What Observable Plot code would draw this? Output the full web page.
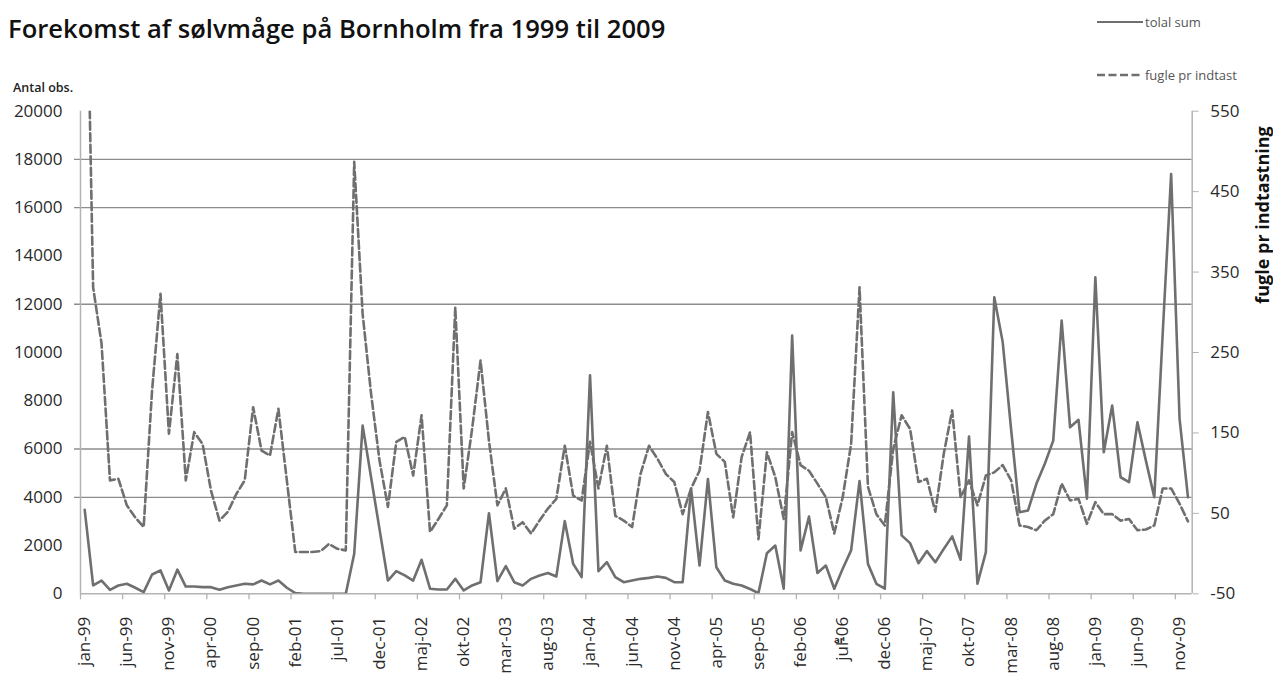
<!DOCTYPE html>
<html><head><meta charset="utf-8">
<script src="https://cdn.jsdelivr.net/npm/d3@7"></script>
<script src="https://cdn.jsdelivr.net/npm/@observablehq/plot@0.6"></script>
<style>
body{margin:0;background:#fff;font-family:"Open Sans",sans-serif}
#wrap{position:relative;width:1273px;height:677px;overflow:hidden}
#overlay{position:absolute;left:0;top:0;pointer-events:none}
</style></head><body>
<div id="wrap"></div>
<script>
const categories = [
"jan-99","feb-99","mar-99","apr-99","maj-99","jun-99","jul-99","aug-99","sep-99","okt-99","nov-99","dec-99",
"jan-00","feb-00","mar-00","apr-00","maj-00","jun-00","jul-00","aug-00","sep-00","okt-00","nov-00","dec-00",
"jan-01","feb-01","mar-01","apr-01","maj-01","jun-01","jul-01","aug-01","sep-01","okt-01","nov-01","dec-01",
"jan-02","feb-02","mar-02","apr-02","maj-02","jun-02","jul-02","aug-02","sep-02","okt-02","nov-02","dec-02",
"jan-03","feb-03","mar-03","apr-03","maj-03","jun-03","jul-03","aug-03","sep-03","okt-03","nov-03","dec-03",
"jan-04","feb-04","mar-04","apr-04","maj-04","jun-04","jul-04","aug-04","sep-04","okt-04","nov-04","dec-04",
"jan-05","feb-05","mar-05","apr-05","maj-05","jun-05","jul-05","aug-05","sep-05","okt-05","nov-05","dec-05",
"jan-06","feb-06","mar-06","apr-06","maj-06","jun-06","jul-06","aug-06","sep-06","okt-06","nov-06","dec-06",
"jan-07","feb-07","mar-07","apr-07","maj-07","jun-07","jul-07","aug-07","sep-07","okt-07","nov-07","dec-07",
"jan-08","feb-08","mar-08","apr-08","maj-08","jun-08","jul-08","aug-08","sep-08","okt-08","nov-08","dec-08",
"jan-09","feb-09","mar-09","apr-09","maj-09","jun-09","jul-09","aug-09","sep-09","okt-09","nov-09","dec-09"
];
// "tolal sum" (left axis, Antal obs.)
const totalSum = [
3480,345,550,165,345,415,250,70,800,970,
140,1000,300,300,275,275,165,275,345,415,
390,550,390,550,250,30,0,0,0,0,
0,0,1660,6970,4830,2690,550,940,760,550,
1410,210,180,180,620,140,345,480,3340,525,
1150,480,345,620,760,860,720,3010,1240,690,
9050,940,1310,690,480,550,620,660,720,660,
480,480,4350,1170,4760,1100,550,415,345,200,
30,1680,2000,210,10700,1800,3200,860,1170,210,
1040,1800,4670,1240,415,210,8350,2420,2100,1270,
1770,1310,1860,2380,1410,6520,415,1730,12290,10430,
6800,3380,3450,4560,5390,6350,11320,6900,7210,3940,
13120,5870,7800,4830,4630,7110,5520,4000,10800,17400,
7250,4000
];
// "fugle pr indtast" (right axis, fugle pr indtastning)
const perEntry = [
880,331,261,91,93,60,45,33,203,323,
149,248,91,151,136,78,41,52,74,91,
182,128,122,180,91,2,2,2,3,12,
6,4,487,298,199,116,58,139,145,97,
172,27,43,60,306,81,155,240,140,60,
81,31,39,25,41,56,68,134,72,66,
139,81,134,47,41,33,99,134,118,99,
89,49,81,103,176,124,114,45,120,151,
18,126,95,43,151,110,103,87,70,25,
70,136,331,83,49,35,130,172,155,89,
93,52,124,178,70,91,60,97,101,110,
91,35,33,29,41,49,87,66,68,37,
64,49,49,41,43,29,30,35,81,81,
62,40
];
const tickLabels = ["jan-99","jun-99","nov-99","apr-00","sep-00","feb-01","jul-01","dec-01","maj-02","okt-02","mar-03","aug-03","jan-04","jun-04","nov-04","apr-05","sep-05","feb-06","jul-06","dec-06","maj-07","okt-07","mar-08","aug-08","jan-09","jun-09","nov-09"];
const leftTicks = [0,2000,4000,6000,8000,10000,12000,14000,16000,18000,20000];
const rightTicks = [-50,50,150,250,350,450,550];
const gridValues = [4000,6000,12000,16000,18000];

const leftMax = 20000, rightMin = -50, rightMax = 550;
const toLeft = v => (v - rightMin) * leftMax / (rightMax - rightMin);
const fromLeft = d => Math.round(d * (rightMax - rightMin) / leftMax + rightMin);

const n = categories.length;
const x0 = -0.5, x1 = n - 0.5;
const labelIdx = tickLabels.map(t => categories.indexOf(t));
const boundaries = labelIdx.map(i => i - 0.5);
const totalData = totalSum.map((v, i) => ({i, v}));
const perData = perEntry.map((v, i) => ({i, v: toLeft(v)}));

const axisGrey = "#b3b3b3";
const lineGrey = "#6f6f6f";
const textCol = "#2a2a2a";

const chart = Plot.plot({
  width: 1273, height: 677,
  marginTop: 110.7, marginBottom: 83.7, marginLeft: 80, marginRight: 81.3,
  x: {domain: [x0, x1], axis: null, label: null},
  y: {domain: [0, leftMax], axis: null, label: null},
  style: {fontFamily: "Open Sans", fontSize: "17px", color: textCol, background: "transparent", overflow: "visible"},
  marks: [
    Plot.ruleY(gridValues, {stroke: "#8c8c8c", strokeWidth: 1.3, insetLeft: -6}),
    Plot.ruleX([x0, x1], {stroke: axisGrey, strokeWidth: 1.5}),
    Plot.ruleY([0], {stroke: axisGrey, strokeWidth: 1.5}),
    Plot.axisX({ticks: boundaries, tickSize: 6, tickFormat: () => "", label: null, stroke: axisGrey, strokeWidth: 1.3}),
    Plot.axisX({ticks: labelIdx, tickSize: 0, tickPadding: 23, tickRotate: -90, tickFormat: i => categories[i], label: null, fill: textCol, fontSize: 17}),
    Plot.axisY({ticks: leftTicks, tickSize: 0, tickPadding: 18, tickFormat: d => String(d), label: null, fill: textCol, fontSize: 17}),
    Plot.axisY({anchor: "right", ticks: rightTicks.map(toLeft), tickSize: 6, tickPadding: 12, tickFormat: d => String(fromLeft(d)), label: null, stroke: axisGrey, fill: textCol, fontSize: 17}),
    Plot.lineY(perData, {x: "i", y: "v", stroke: lineGrey, strokeWidth: 2.6, strokeDasharray: "8,3.5", clip: true}),
    Plot.lineY(totalData, {x: "i", y: "v", stroke: lineGrey, strokeWidth: 2.6, clip: true})
  ]
});
const wrap = document.getElementById("wrap");
wrap.appendChild(chart);

const ns = "http://www.w3.org/2000/svg";
const ov = document.createElementNS(ns, "svg");
ov.setAttribute("id", "overlay");
ov.setAttribute("width", 1273);
ov.setAttribute("height", 677);
function txt(s, x, y, attrs) {
  const t = document.createElementNS(ns, "text");
  t.textContent = s;
  t.setAttribute("x", x); t.setAttribute("y", y);
  for (const k in attrs) t.setAttribute(k, attrs[k]);
  ov.appendChild(t);
  return t;
}
function ln(xa, ya, xb, yb, attrs) {
  const l = document.createElementNS(ns, "line");
  l.setAttribute("x1", xa); l.setAttribute("y1", ya); l.setAttribute("x2", xb); l.setAttribute("y2", yb);
  for (const k in attrs) l.setAttribute(k, attrs[k]);
  ov.appendChild(l);
}
txt("Forekomst af sølvmåge på Bornholm fra 1999 til 2009", 8, 38, {"font-family": "Open Sans", "font-size": 25.6, "font-weight": 600, fill: "#111"});
txt("Antal obs.", 13, 92, {"font-family": "Open Sans", "font-size": 12.5, "font-weight": 600, fill: "#222"});
ln(1097, 22, 1143, 22, {stroke: lineGrey, "stroke-width": 2});
txt("tolal sum", 1145, 26.5, {"font-family": "Open Sans", "font-size": 13, fill: "#555"});
ln(1097, 75, 1143, 75, {stroke: lineGrey, "stroke-width": 2.6, "stroke-dasharray": "8,3.5"});
txt("fugle pr indtast", 1145, 79.5, {"font-family": "Open Sans", "font-size": 13, fill: "#555"});
txt("fugle pr indtastning", 0, 0, {"font-family": "Open Sans", "font-size": 18, "font-weight": 700, fill: "#111", "text-anchor": "middle", dy: "0.35em", transform: "translate(1263,215) rotate(-90)"});
txt("ar", 834, 643, {"font-family": "Open Sans", "font-size": 9.5, "font-weight": 700, fill: "#222"});
wrap.appendChild(ov);
</script>
</body></html>
